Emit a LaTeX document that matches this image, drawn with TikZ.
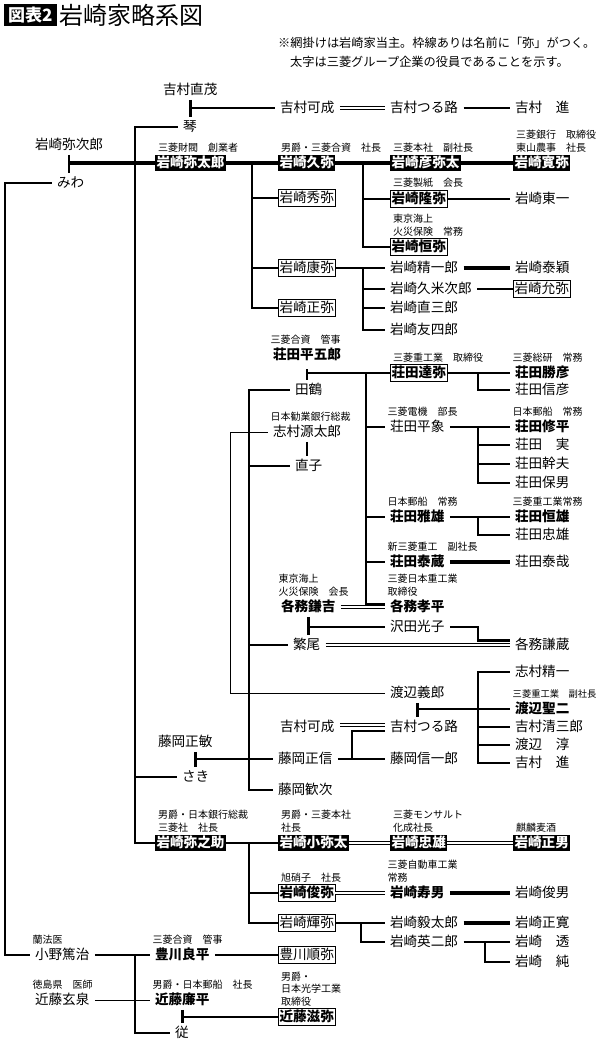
\documentclass[tikz,border=0pt]{standalone}
\usepackage{fontspec}
\setmainfont{Noto Sans CJK JP}
\usetikzlibrary{positioning}

\newcommand{\nmfont}{\fontsize{13.6}{16}\selectfont}
\newcommand{\lbfont}{\fontsize{10}{12.5}\selectfont}

\tikzset{
  nm/.style={anchor=west, inner xsep=1.5pt, inner ysep=1.5pt, outer xsep=4pt, outer ysep=0pt,
    text height=11.5pt, text depth=2.1pt, font=\nmfont},
  bnm/.style={nm, font=\nmfont\bfseries},
  yabox/.style={nm, draw, line width=0.8pt, outer xsep=0pt},
  head/.style={nm, fill=black, text=white, font=\nmfont\bfseries, outer xsep=0pt},
  lbl/.style={anchor=south west, inner xsep=3pt, inner ysep=0pt, font=\lbfont, align=left},
  note/.style={anchor=west, inner sep=0pt, font=\fontsize{12.2}{14}\selectfont},
  lnk/.style={line width=2.9pt},
  hvy/.style={line width=3.7pt},
  mid/.style={line width=2pt},
  thn/.style={line width=0.8pt},
  dbl/.style={double, double distance=2pt, line width=1.2pt},
  tbar/.style={lnk, shorten <=1.5pt, shorten >=1.5pt}
}

\begin{document}
\begin{tikzpicture}[x=1pt, y=-1pt]
\path[fill=white, use as bounding box] (0,0) rectangle (600,1046);

% title and note
\node[fill=black, text=white, font=\fontsize{17}{17}\selectfont\bfseries, inner xsep=4pt, inner ysep=2.5pt,
  text height=14.5pt, text depth=2pt, anchor=north west] (tag) at (4,4) {図表2};
\node[right=3pt of tag, inner sep=0pt, font=\fontsize{24}{24}\selectfont] (title) {岩崎家略系図};
\node[note] (note1) at (278,43) {※網掛けは岩崎家当主。枠線ありは名前に「弥」がつく。};
\node[note] (note2) at (290,62) {太字は三菱グループ企業の役員であることを示す。};

% names
\node[nm] (naoshige) at (157.5,90) {吉村直茂};
\node[nm] (kanari1) at (274.5,108) {吉村可成};
\node[nm] (tsuru1) at (384.5,108) {吉村つる路};
\node[nm] (susumu1) at (509.5,108) {吉村　進};
\node[nm] (koto) at (177.5,127) {琴};
\node[nm] (yajiro) at (29.5,145) {岩崎弥次郎};
\node[nm] (miwa) at (51.5,183) {みわ};

\node[head] (yataro) at (155,163) {岩崎弥太郎};
\node[head] (hisaya) at (278,163) {岩崎久弥};
\node[head] (hikoyata) at (390,163) {岩崎彦弥太};
\node[head] (kanya) at (513,163) {岩崎寛弥};
\node[yabox, font=\nmfont\bfseries] (takaya) at (390,199) {岩崎隆弥};
\node[nm] (toichi) at (509.5,199) {岩崎東一};
\node[yabox, font=\nmfont\bfseries] (tsuneya) at (390,247) {岩崎恒弥};
\node[yabox] (hideya) at (278,198) {岩崎秀弥};
\node[yabox] (yasuya) at (278,268) {岩崎康弥};
\node[yabox] (masaya) at (278,308) {岩崎正弥};
\node[nm] (seiichiro) at (384.5,268) {岩崎精一郎};
\node[nm] (kumejiro) at (384.5,289) {岩崎久米次郎};
\node[nm] (naosaburo) at (384.5,308) {岩崎直三郎};
\node[nm] (yushiro) at (384.5,330) {岩崎友四郎};
\node[nm] (taiei) at (509.5,268) {岩崎泰穎};
\node[yabox] (inya) at (513,289) {岩崎允弥};

\node[bnm] (shoda) at (267.5,355) {荘田平五郎};
\node[nm] (tazu) at (289.5,390) {田鶴};
\node[yabox, font=\nmfont\bfseries] (tatsuya) at (390,373) {荘田達弥};
\node[bnm] (katsuhiko) at (509.5,373) {荘田勝彦};
\node[nm] (nobuhiko) at (509.5,390) {荘田信彦};
\node[nm] (shimura) at (267.5,432) {志村源太郎};
\node[nm] (naoko) at (289.5,466) {直子};
\node[nm] (heizo) at (384.5,427) {荘田平象};
\node[bnm] (shuhei) at (509.5,427) {荘田修平};
\node[nm] (minoru) at (509.5,445) {荘田　実};
\node[nm] (mikio) at (509.5,464) {荘田幹夫};
\node[nm] (yasuo) at (509.5,483) {荘田保男};
\node[bnm] (masaos) at (384.5,517) {荘田雅雄};
\node[bnm] (tsuneo) at (509.5,517) {荘田恒雄};
\node[nm] (tadaos) at (509.5,535) {荘田忠雄};
\node[bnm] (taizo) at (384.5,562) {荘田泰蔵};
\node[nm] (taiya) at (509.5,562) {荘田泰哉};
\node[bnm] (kohei) at (384.5,607) {各務孝平};
\node[bnm] (kenkichi) at (275.5,607) {各務鎌吉};
\node[nm] (mitsuko) at (384.5,627) {沢田光子};
\node[nm] (shigeo) at (287.5,645) {繁尾};
\node[nm] (kenzo) at (509.5,645) {各務謙蔵};

\node[nm] (seiichi) at (509.5,672) {志村精一};
\node[nm] (yoshiro) at (384.5,693) {渡辺義郎};
\node[bnm] (seiji) at (509.5,709) {渡辺聖二};
\node[nm] (seizaburo) at (509.5,727) {吉村清三郎};
\node[nm] (jun) at (509.5,745) {渡辺　淳};
\node[nm] (susumu2) at (509.5,763) {吉村　進};
\node[nm] (kanari2) at (274.5,727) {吉村可成};
\node[nm] (tsuru2) at (384.5,727) {吉村つる路};
\node[nm] (masanobu) at (272.5,759) {藤岡正信};
\node[nm] (shinichiro) at (384.5,759) {藤岡信一郎};
\node[nm] (kanji) at (272.5,790) {藤岡歓次};
\node[nm] (masatoshi) at (152.5,742) {藤岡正敏};
\node[nm] (saki) at (176.5,777) {さき};

\node[head] (yanosuke) at (155,843) {岩崎弥之助};
\node[head] (koyata) at (278,843) {岩崎小弥太};
\node[head] (tadao) at (390,843) {岩崎忠雄};
\node[head] (masao) at (513,843) {岩崎正男};
\node[yabox, font=\nmfont\bfseries] (toshiya) at (278,893) {岩崎俊弥};
\node[bnm] (hisao) at (384.5,893) {岩崎寿男};
\node[nm] (toshio) at (509.5,893) {岩崎俊男};
\node[yabox] (teruya) at (278,923) {岩崎輝弥};
\node[nm] (kitaro) at (384.5,923) {岩崎毅太郎};
\node[nm] (masahiro) at (509.5,923) {岩崎正寛};
\node[nm] (eijiro) at (384.5,942) {岩崎英二郎};
\node[nm] (toru) at (509.5,942) {岩崎　透};
\node[nm] (jun2) at (509.5,962) {岩崎　純};
\node[yabox] (junya) at (278,955) {豊川順弥};

\node[nm] (ono) at (29.5,955) {小野篤治};
\node[bnm] (ryohei) at (149.5,955) {豊川良平};
\node[nm] (gensen) at (29.5,1000) {近藤玄泉};
\node[bnm] (renpei) at (149.5,1000) {近藤廉平};
\node[nm] (yori) at (169.5,1033) {従};
\node[yabox, font=\nmfont\bfseries] (shigeya) at (278,1017) {近藤滋弥};

% posts
\node[above=2.5pt of yataro.north west, lbl] {三菱財閥　創業者};
\node[above=2.5pt of hisaya.north west, lbl] {男爵・三菱合資　社長};
\node[above=2.5pt of hikoyata.north west, lbl] {三菱本社　副社長};
\node[above=2.5pt of kanya.north west, lbl] {三菱銀行　取締役\\東山農事　社長};
\node[above=2.5pt of takaya.north west, lbl] {三菱製紙　会長};
\node[above=2.5pt of tsuneya.north west, lbl] {東京海上\\火災保険　常務};
\node[above=2.5pt of shoda.north west, lbl] {三菱合資　管事};
\node[above=2.5pt of tatsuya.north west, lbl] {三菱重工業　取締役};
\node[above=2.5pt of katsuhiko.north west, lbl] {三菱総研　常務};
\node[above=2.5pt of shimura.north west, lbl] {日本勧業銀行総裁};
\node[above=2.5pt of heizo.north west, lbl] {三菱電機　部長};
\node[above=2.5pt of shuhei.north west, lbl] {日本郵船　常務};
\node[above=2.5pt of masaos.north west, lbl] {日本郵船　常務};
\node[above=2.5pt of tsuneo.north west, lbl] {三菱重工業常務};
\node[above=2.5pt of taizo.north west, lbl] {新三菱重工　副社長};
\node[above=2.5pt of kohei.north west, lbl] {三菱日本重工業\\取締役};
\node[above=2.5pt of kenkichi.north west, lbl] {東京海上\\火災保険　会長};
\node[above=2.5pt of seiji.north west, lbl, font=\fontsize{9.3}{12}\selectfont] {三菱重工業　副社長};
\node[above=2.5pt of yanosuke.north west, lbl] {男爵・日本銀行総裁\\三菱社　社長};
\node[above=2.5pt of koyata.north west, lbl] {男爵・三菱本社\\社長};
\node[above=2.5pt of tadao.north west, lbl] {三菱モンサルト\\化成社長};
\node[above=2.5pt of masao.north west, lbl] {麒麟麦酒};
\node[above=2.5pt of toshiya.north west, lbl] {旭硝子　社長};
\node[above=2.5pt of hisao.north west, lbl] {三菱自動車工業\\常務};
\node[above=2.5pt of ono.north west, lbl] {蘭法医};
\node[above=2.5pt of ryohei.north west, lbl] {三菱合資　管事};
\node[above=2.5pt of gensen.north west, lbl] {徳島県　医師};
\node[above=2.5pt of renpei.north west, lbl] {男爵・日本郵船　社長};
\node[above=2.5pt of shigeya.north west, lbl] {男爵・\\日本光学工業\\取締役};

% junctions
\coordinate (spA) at (135,127);
\coordinate (spL) at (5,183);
\coordinate (jB) at (252,163);
\coordinate (jC) at (363,163);
\coordinate (jD) at (363,268);
\coordinate (jE) at (366,373);
\coordinate (jF) at (478,373);
\coordinate (jG) at (478,427);
\coordinate (jH) at (478,517);
\coordinate (jI) at (478,0);
\coordinate (jJ) at (249,390);
\coordinate (jK) at (352,759);
\coordinate (jL) at (478,672);
\coordinate (jM) at (230,432);
\coordinate (jN) at (249,843);
\coordinate (jO) at (361,923);
\coordinate (jP) at (485,942);
\coordinate (jQ) at (135,955);
\coordinate (kh) at ([yshift=3pt]kohei.west);
\coordinate (kz) at ([yshift=4.5pt]kenzo.west);
\coordinate (ts) at ([yshift=-4pt]tsuru2.west);

% lines
\draw[tbar] (naoshige.south) -- (naoshige.south |- koto.north);
\draw[lnk] (naoshige.south |- kanari1.west) -- (kanari1.west);
\draw[dbl] (kanari1.east) -- (tsuru1.west);
\draw[lnk] (tsuru1.east) -- (susumu1.west);
\draw[lnk] (koto.west) -- (spA) |- (yanosuke.west);
\draw[lnk] (spA |- saki.west) -- (saki.west);
\draw[tbar] (yajiro.south) -- (yajiro.south |- miwa.north);
\draw[hvy] (yajiro.south |- yataro.west) -- (yataro.west);
\draw[lnk] (miwa.west) -- (spL) |- (ono.west);

\draw[hvy] (yataro.east) -- (hisaya.west);
\draw[lnk] (jB) |- (masaya.west);
\draw[lnk] (jB |- hideya.west) -- (hideya.west);
\draw[lnk] (jB |- yasuya.west) -- (yasuya.west);
\draw[hvy] (hisaya.east) -- (hikoyata.west);
\draw[hvy] (hikoyata.east) -- (kanya.west);
\draw[lnk] (jC) |- (tsuneya.west);
\draw[lnk] (jC |- takaya.west) -- (takaya.west);
\draw[lnk] (takaya.east) -- (toichi.west);
\draw[lnk] (yasuya.east) -- (seiichiro.west);
\draw[lnk] (jD) |- (yushiro.west);
\draw[lnk] (jD |- kumejiro.west) -- (kumejiro.west);
\draw[lnk] (jD |- naosaburo.west) -- (naosaburo.west);
\draw[hvy] (seiichiro.east) -- (taiei.west);
\draw[mid] (kumejiro.east) -- (inya.west);

\draw[tbar, shorten <=6pt] (shoda.south) -- (shoda.south |- tazu.north);
\draw[lnk] (shoda.south |- tatsuya.west) -- (tatsuya.west);
\draw[lnk] (jE) |- (kh);
\draw[lnk] (jE |- heizo.west) -- (heizo.west);
\draw[lnk] (jE |- masaos.west) -- (masaos.west);
\draw[lnk] (jE |- taizo.west) -- (taizo.west);
\draw[lnk] (tatsuya.east) -- (katsuhiko.west);
\draw[lnk] (jF) |- (nobuhiko.west);
\draw[lnk] (heizo.east) -- (shuhei.west);
\draw[lnk] (jG) |- (yasuo.west);
\draw[lnk] (jG |- minoru.west) -- (minoru.west);
\draw[lnk] (jG |- mikio.west) -- (mikio.west);
\draw[lnk] (masaos.east) -- (tsuneo.west);
\draw[lnk] (jH) |- (tadaos.west);
\draw[hvy] (taizo.east) -- (taiya.west);
\draw[dbl] (kenkichi.east) -- (kohei.west);
\draw[tbar] (kenkichi.south) -- (kenkichi.south |- shigeo.north);
\draw[lnk] (kenkichi.south |- mitsuko.west) -- (mitsuko.west);
\draw[lnk] (mitsuko.east) -| (jI |- kz) -- (kz);
\draw[dbl] (shigeo.east) -- (kenzo.west);

\draw[lnk] (tazu.west) -- (jJ) |- (kanji.west);
\draw[lnk] (jJ |- naoko.west) -- (naoko.west);
\draw[lnk] (jJ |- shigeo.west) -- (shigeo.west);
\draw[tbar] (shimura.south) -- (shimura.south |- naoko.north);
\draw[thn] (shimura.west) -- (jM) |- (yoshiro.west);
\draw[tbar] (saki.north |- masatoshi.south) -- (saki.north);
\draw[lnk] (saki.north |- masanobu.west) -- (masanobu.west);
\draw[lnk] (masanobu.east) -- (shinichiro.west);
\draw[lnk] (jK) |- (ts);
\draw[dbl] ([yshift=2pt]kanari2.east) -- ([yshift=2pt]tsuru2.west);
\draw[tbar] (yoshiro.south) -- (yoshiro.south |- tsuru2.north);
\draw[lnk] (yoshiro.south |- seiji.west) -- (seiji.west);
\draw[lnk] (seiichi.west) -- (jL) |- (susumu2.west);
\draw[lnk] (jL |- seizaburo.west) -- (seizaburo.west);
\draw[lnk] (jL |- jun.west) -- (jun.west);

\draw[lnk] (yanosuke.east) -- (koyata.west);
\draw[dbl] (koyata.east) -- (tadao.west);
\draw[dbl] (tadao.east) -- (masao.west);
\draw[lnk] (jN) |- (teruya.west);
\draw[lnk] (jN |- toshiya.west) -- (toshiya.west);
\draw[dbl] (toshiya.east) -- (hisao.west);
\draw[hvy] (hisao.east) -- (toshio.west);
\draw[mid] (teruya.east) -- (kitaro.west);
\draw[mid] (jO) |- (eijiro.west);
\draw[hvy] (kitaro.east) -- (masahiro.west);
\draw[lnk] (eijiro.east) -- (toru.west);
\draw[lnk] (jP) |- (jun2.west);

\draw[lnk] (ono.east) -- (ryohei.west);
\draw[lnk] (jQ) |- (yori.west);
\draw[mid] (ryohei.east) -- (junya.west);
\draw[thn] (gensen.east) -- (renpei.west);
\draw[tbar] (renpei.south) -- (renpei.south |- yori.north);
\draw[lnk] (renpei.south |- shigeya.west) -- (shigeya.west);
\end{tikzpicture}
\end{document}
